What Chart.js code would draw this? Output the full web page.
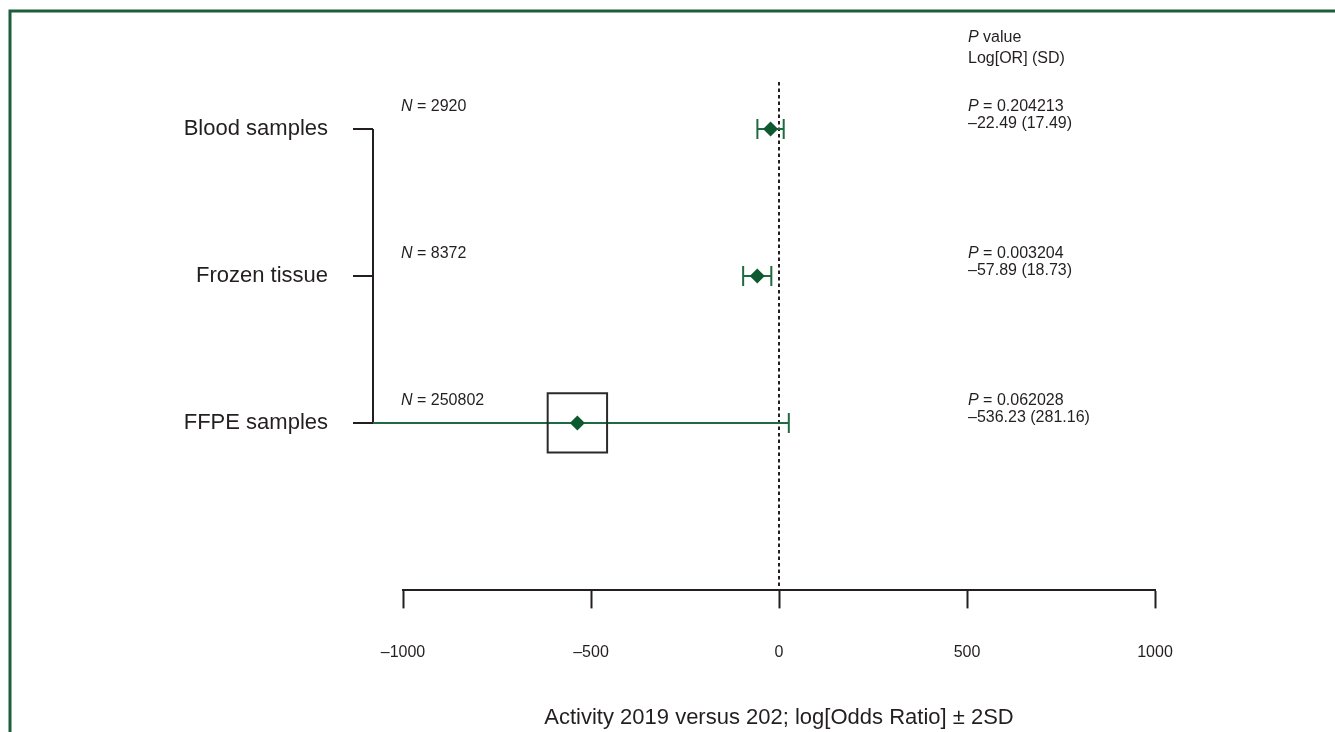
<!DOCTYPE html>
<html>
<head>
<meta charset="utf-8">
<title>Forest plot</title>
<script src="https://cdn.jsdelivr.net/npm/chart.js@4.4.1/dist/chart.umd.min.js"></script>
<style>
  body { margin: 0; background: #fff; }
  #wrap { position: relative; width: 1335px; height: 732px; }
</style>
</head>
<body>
<div id="wrap"><canvas id="forestChart"></canvas></div>
<script>
// Datos
const categories = ["Blood samples", "Frozen tissue", "FFPE samples"];
const sampleSizes = ["2920", "8372", "250802"];
const pValues = ["0.204213", "0.003204", "0.062028"];
const logOR = [-22.49, -57.89, -536.23];
const logSD = [17.49, 18.73, 281.16];
const rowPos = [1, 2, 3];
const xTicks = [-1000, -500, 0, 500, 1000];
const boxedRows = [2]; // solo FFPE lleva el recuadro

const FONT = '"Liberation Sans", Arial, Helvetica, sans-serif';
const INK = "#231f20";
const GREEN = "#0d5a30";
const BAR_GREEN = "#1f6a40";

function dash(v) {
  return v < 0 ? "\u2013" + Math.abs(v) : String(v);
}

// Texto con una parte en cursiva (N, P)
function italicLead(ctx, lead, rest, x, y, size) {
  ctx.textAlign = "left";
  ctx.font = "italic " + size + "px " + FONT;
  ctx.fillText(lead, x, y);
  const w = ctx.measureText(lead).width;
  ctx.font = size + "px " + FONT;
  ctx.fillText(rest, x + w, y);
}

const forestPlugin = {
  id: "forest",
  beforeDraw(chart) {
    const ctx = chart.ctx;
    ctx.save();
    ctx.fillStyle = "#fff";
    ctx.fillRect(0, 0, chart.width, chart.height);
    // marco verde
    ctx.strokeStyle = "#1d5e3a";
    ctx.lineWidth = 3;
    ctx.beginPath();
    ctx.moveTo(10, chart.height);
    ctx.lineTo(10, 11);
    ctx.lineTo(chart.width, 11);
    ctx.stroke();
    ctx.restore();
  },
  beforeDatasetsDraw(chart) {
    const ctx = chart.ctx;
    const xs = chart.scales.x;
    const ys = chart.scales.y;
    const area = chart.chartArea;
    const bracketX = area.left - 30;

    ctx.save();
    // línea de referencia en 0
    const x0 = xs.getPixelForValue(0);
    ctx.strokeStyle = INK;
    ctx.lineWidth = 2;
    ctx.setLineDash([3.5, 3]);
    ctx.beginPath();
    ctx.moveTo(x0, area.top);
    ctx.lineTo(x0, area.bottom);
    ctx.stroke();
    ctx.setLineDash([]);

    // corchete de la izquierda
    ctx.lineWidth = 2;
    ctx.beginPath();
    ctx.moveTo(bracketX, ys.getPixelForValue(rowPos[0]));
    ctx.lineTo(bracketX, ys.getPixelForValue(rowPos[rowPos.length - 1]));
    rowPos.forEach((r) => {
      const y = ys.getPixelForValue(r);
      ctx.moveTo(bracketX - 20, y);
      ctx.lineTo(bracketX, y);
    });
    ctx.stroke();

    // barras de error (± 2SD)
    ctx.strokeStyle = BAR_GREEN;
    ctx.lineWidth = 2;
    logOR.forEach((est, i) => {
      const y = ys.getPixelForValue(rowPos[i]);
      let lo = xs.getPixelForValue(est - 2 * logSD[i]);
      const hi = xs.getPixelForValue(est + 2 * logSD[i]);
      const clipped = lo < bracketX;
      if (clipped) lo = bracketX;
      ctx.beginPath();
      ctx.moveTo(lo, y);
      ctx.lineTo(hi, y);
      if (!clipped) {
        ctx.moveTo(lo, y - 10);
        ctx.lineTo(lo, y + 10);
      }
      ctx.moveTo(hi, y - 10);
      ctx.lineTo(hi, y + 10);
      ctx.stroke();
    });

    // textos
    ctx.fillStyle = INK;
    ctx.textBaseline = "alphabetic";
    const textX = xs.getPixelForValue(500) + 1;
    italicLead(ctx, "P", " value", textX, 42, 16);
    ctx.font = "16px " + FONT;
    ctx.fillText("Log[OR] (SD)", textX, 63);

    categories.forEach((c, i) => {
      const y = ys.getPixelForValue(rowPos[i]);
      ctx.font = "22px " + FONT;
      ctx.textAlign = "right";
      ctx.textBaseline = "middle";
      ctx.fillText(c, bracketX - 45, y);
      ctx.textBaseline = "alphabetic";
      italicLead(ctx, "N", " = " + sampleSizes[i], area.left - 2, y - 18, 16);
      italicLead(ctx, "P", " = " + pValues[i], textX, y - 18, 16);
      ctx.font = "16px " + FONT;
      ctx.fillText(dash(logOR[i]) + " (" + logSD[i].toFixed(2) + ")", textX, y - 1);
    });
    ctx.restore();
  },
};

const ctx = document.getElementById("forestChart").getContext("2d");
new Chart(ctx, {
  type: "scatter",
  data: {
    datasets: [
      {
        label: "Estimate",
        data: logOR.map((v, i) => ({ x: v, y: rowPos[i] })),
        pointStyle: "rectRot",
        pointRadius: 7.5,
        backgroundColor: GREEN,
        borderColor: GREEN,
        borderWidth: 0,
        clip: false,
      },
      {
        label: "Box",
        data: boxedRows.map((i) => ({ x: logOR[i], y: rowPos[i] })),
        pointStyle: "rect",
        pointRadius: 42,
        backgroundColor: "rgba(0,0,0,0)",
        borderColor: "#2a2a2a",
        borderWidth: 2,
        clip: false,
      },
    ],
  },
  options: {
    responsive: true,
    maintainAspectRatio: false,
    animation: false,
    events: [],
    layout: { padding: { left: 403, right: 180, top: 82, bottom: 0 } },
    plugins: { legend: { display: false }, tooltip: { enabled: false } },
    scales: {
      x: {
        type: "linear",
        min: xTicks[0],
        max: xTicks[xTicks.length - 1],
        afterBuildTicks: (scale) => {
          scale.ticks = xTicks.map((v) => ({ value: v }));
        },
        border: { display: true, color: INK, width: 2 },
        grid: {
          display: true,
          drawOnChartArea: false,
          drawTicks: true,
          tickLength: 18,
          tickWidth: 2,
          tickColor: INK,
        },
        ticks: {
          padding: 35,
          color: INK,
          font: { family: FONT, size: 16 },
          callback: (v) => dash(v),
        },
        title: {
          display: true,
          text: "Activity 2019 versus 202; log[Odds Ratio] \u00b1 2SD",
          color: INK,
          font: { family: FONT, size: 22 },
          padding: { top: 7, bottom: 1 },
        },
      },
      y: {
        type: "linear",
        display: false,
        reverse: true,
        min: 0.68,
        max: 4.14,
      },
    },
  },
  plugins: [forestPlugin],
});
</script>
</body>
</html>
